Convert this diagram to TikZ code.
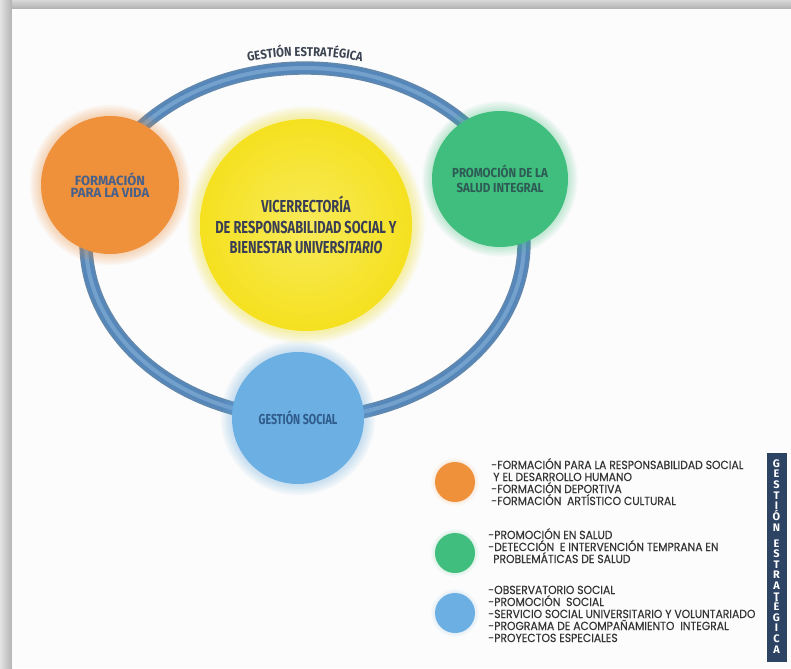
\documentclass[tikz,border=0pt]{standalone}
\usepackage{fontspec}
\setmainfont{Fira Sans}
\newfontfamily\condA[FakeStretch=0.74]{Fira Sans}
\newfontfamily\condB[FakeStretch=0.88]{Fira Sans}
\newfontfamily\condC[FakeStretch=0.98]{Fira Sans}
\newfontfamily\legfont[FakeStretch=0.92,FakeBold=0.3]{Poppins}
\usetikzlibrary{decorations.text}
\definecolor{ringblue}{HTML}{5687BA}
\definecolor{ringdark}{HTML}{46739F}
\definecolor{ringlight}{HTML}{8DB6DC}
\definecolor{orangeC}{HTML}{EF903B}
\definecolor{yellowC}{HTML}{F5E11F}
\definecolor{yellowL}{HTML}{F8EA5A}
\definecolor{greenC}{HTML}{3FBE7D}
\definecolor{blueC}{HTML}{6CAFE2}
\definecolor{navy}{HTML}{2C4364}
\definecolor{titlecol}{HTML}{3C4452}
\definecolor{otext}{HTML}{47618A}
\definecolor{ytext}{HTML}{3A3E55}
\definecolor{gtext}{HTML}{2E5A55}
\definecolor{btext}{HTML}{2F5C8C}
\definecolor{legtext}{HTML}{343434}
\newcommand\glowat[5]{\foreach \k in {1,...,#5}{\fill[#4, opacity=0.055] (#1,#2) circle ({#3+1.6*\k});}}
\begin{document}
\begin{tikzpicture}[x=0.75pt,y=-0.75pt,
  bigc/.style={circle, inner sep=0pt, align=center},
  dotc/.style={circle, inner sep=0pt, minimum size=30pt},
  legtxt/.style={anchor=base west, inner sep=0pt, text=legtext, font=\legfont\fontsize{8.8pt}{9pt}\selectfont},
  barletter/.style={anchor=base, inner sep=0pt, text height=5.6pt, text depth=0pt, text=white, font=\bfseries\fontsize{8.2pt}{8.2pt}\selectfont}]
\useasboundingbox (0,0) rectangle (791,668);
% frame
\fill[gray!50] (0,0) rectangle (791,668);
\shade[top color=gray!30, bottom color=gray!62] (0,0) rectangle (791,9);
\shade[left color=gray!22, right color=gray!60] (0,0) rectangle (12,668);
\fill[white!99!black] (12,9) rectangle (791,668);
% ring
\draw[ringdark, line width=10pt, opacity=0.85] (305,243) ellipse [x radius=219, y radius=175];
\draw[ringblue, line width=7.5pt] (305,243) ellipse [x radius=219, y radius=175];
\draw[ringlight, line width=3pt, opacity=0.55] (305,243) ellipse [x radius=219, y radius=175];
% title along ring
\path[decorate, decoration={text along path, text color=titlecol, text align=center,
  text={|\condB\bfseries\fontsize{9.6pt}{10pt}\selectfont|GESTIÓN ESTRATÉGICA}}]
  (226.0,67.3) arc[start angle=-110, end angle=-70, x radius=231, y radius=187];
% glows
\glowat{110}{185}{69}{orangeC}{7}
\glowat{306}{225}{106}{yellowC}{8}
\glowat{500}{179}{68}{greenC}{6}
\glowat{298}{418}{66}{blueC}{7}
% circles
\node[bigc, fill=orangeC, minimum size=103.5pt, text=otext,
  font=\condC\bfseries\fontsize{10pt}{10pt}\selectfont] (form) at (110,185)
  {FORMACIÓN\\[-0.5pt]PARA LA VIDA};
\shade[inner color=yellowL, outer color=yellowC] (306,225) circle (106);
\node[bigc, minimum size=159pt, text=ytext, font=\condA\bfseries\fontsize{13pt}{15.6pt}\selectfont] (vice) at (306,225)
  {VICERRECTORÍA\\DE RESPONSABILIDAD SOCIAL Y\\BIENESTAR UNIVERS\textit{ITARIO}};
\node[bigc, fill=greenC, minimum size=102pt, text=gtext,
  font=\condB\bfseries\fontsize{9.8pt}{11pt}\selectfont] (salud) at (500,179)
  {PROMOCIÓN DE LA\\SALUD INTEGRAL};
\node[bigc, fill=blueC, minimum size=99pt, text=btext,
  font=\condA\bfseries\fontsize{10.8pt}{11pt}\selectfont] (gsoc) at (298,418)
  {GESTIÓN SOCIAL};
% legend dots
\glowat{455}{482}{19}{orangeC}{3}
\glowat{455}{553}{19}{greenC}{3}
\glowat{455}{613}{19}{blueC}{3}
\node[dotc, fill=orangeC] (d1) at (455,482) {};
\node[dotc, fill=greenC] (d2) at (455,553) {};
\node[dotc, fill=blueC] (d3) at (455,613) {};
% legend texts
\node[legtxt] (o1) at (491,469) {-FORMACIÓN PARA LA RESPONSABILIDAD SOCIAL};
\node[legtxt] (o2) at (493,481) {Y EL DESARROLLO HUMANO};
\node[legtxt] (o3) at (491,493) {-FORMACIÓN DEPORTIVA};
\node[legtxt] (o4) at (491,505) {-FORMACIÓN\ \ ARTÍSTICO CULTURAL};
\node[legtxt] (g1) at (488,539) {-PROMOCIÓN EN SALUD};
\node[legtxt] (g2) at (488,551) {-DETECCIÓN\ \ E INTERVENCIÓN TEMPRANA EN};
\node[legtxt] (g3) at (493,563) {PROBLEMÁTICAS DE SALUD};
\node[legtxt] (b1) at (488,594) {-OBSERVATORIO SOCIAL};
\node[legtxt] (b2) at (488,606) {-PROMOCIÓN\ \ SOCIAL};
\node[legtxt] (b3) at (488,618) {-SERVICIO SOCIAL UNIVERSITARIO Y VOLUNTARIADO};
\node[legtxt] (b4) at (488,630) {-PROGRAMA DE ACOMPAÑAMIENTO\ \ INTEGRAL};
\node[legtxt] (b5) at (488,642) {-PROYECTOS ESPECIALES};
% vertical bar
\node[fill=navy, minimum width=15pt, minimum height=156.75pt, inner sep=0pt] (bar) at (776.5,557.5) {};
\foreach \ch [count=\i] in {G,E,S,T,I,Ó,N}
  \node[barletter] (va\i) at (776.5,{467+10.67*(\i-1)}) {\ch};
\foreach \ch [count=\i] in {E,S,T,R,A,T,É,G,I,C,A}
  \node[barletter] (vb\i) at (776.5,{547+10.6*(\i-1)}) {\ch};
\end{tikzpicture}
\end{document}
